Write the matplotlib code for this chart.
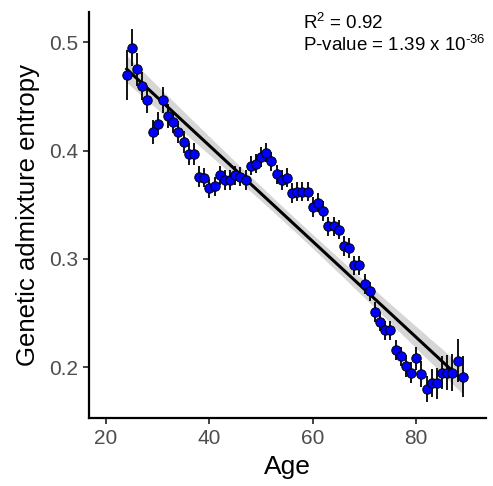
import numpy as np
import matplotlib
matplotlib.use("Agg")
import matplotlib.pyplot as plt

plt.rcParams["font.family"] = ["Liberation Sans", "DejaVu Sans"]
plt.rcParams["mathtext.fontset"] = "custom"
plt.rcParams["mathtext.rm"] = "Liberation Sans"
plt.rcParams["mathtext.it"] = "Liberation Sans:italic"

# mean entropy per age
age = list(range(24, 90))
entropy = [0.470, 0.495, 0.475, 0.460, 0.447, 0.417, 0.425, 0.447, 0.432, 0.426,
           0.417, 0.408, 0.397, 0.397, 0.376, 0.375, 0.365, 0.367, 0.377, 0.373,
           0.373, 0.377, 0.376, 0.373, 0.386, 0.388, 0.394, 0.398, 0.390, 0.378,
           0.373, 0.375, 0.361, 0.362, 0.362, 0.362, 0.348, 0.352, 0.344, 0.330,
           0.330, 0.327, 0.312, 0.310, 0.294, 0.294, 0.277, 0.270, 0.251, 0.242,
           0.234, 0.234, 0.216, 0.210, 0.201, 0.195, 0.208, 0.194, 0.180, 0.185,
           0.185, 0.195, 0.195, 0.195, 0.206, 0.191]
err = [0.023, 0.017, 0.015, 0.013, 0.012, 0.011, 0.011, 0.012, 0.011, 0.010,
       0.010, 0.010, 0.010, 0.010, 0.010, 0.009, 0.009, 0.009, 0.009, 0.009,
       0.009, 0.009, 0.009, 0.009, 0.009, 0.009, 0.009, 0.009, 0.009, 0.009,
       0.009, 0.009, 0.009, 0.009, 0.009, 0.009, 0.009, 0.009, 0.009, 0.009,
       0.009, 0.009, 0.009, 0.009, 0.009, 0.009, 0.009, 0.009, 0.009, 0.009,
       0.009, 0.009, 0.009, 0.009, 0.010, 0.010, 0.011, 0.012, 0.012, 0.013,
       0.014, 0.015, 0.016, 0.017, 0.020, 0.019]
r2_text = r"R$^{2}$ = 0.92"
p_text = r"P-value = 1.39 x 10$^{\text{-36}}$"

x = np.array(age, dtype=float)
y = np.array(entropy)

# linear fit + 95% confidence band (like geom_smooth(method="lm"))
b, a = np.polyfit(x, y, 1)
xs = np.linspace(x.min(), x.max(), 200)
ys = a + b * xs
n = len(x)
resid = y - (a + b * x)
s = np.sqrt(np.sum(resid ** 2) / (n - 2))
sxx = np.sum((x - x.mean()) ** 2)
se = s * np.sqrt(1 / n + (xs - x.mean()) ** 2 / sxx)
band = 1.997 * se

fig = plt.figure(figsize=(4.93, 4.86), dpi=100)
ax = fig.add_axes([0.1805, 0.1399, 0.8053, 0.8354])

ax.fill_between(xs, ys - band, ys + band, color="#999999", alpha=0.4, linewidth=0, zorder=1)
ax.plot(xs, ys, color="black", linewidth=2.2, zorder=2)
ax.errorbar(x, y, yerr=err, fmt="none", ecolor="black", elinewidth=1.3, capsize=0, zorder=3)
ax.plot(x, y, "o", markersize=6.8, markerfacecolor="#0000FF", markeredgecolor="black",
        markeredgewidth=0.7, linestyle="none", zorder=4)

ax.set_xlim(16.7, 93.5)
ax.set_ylim(0.153, 0.528)
ax.set_xticks([20, 40, 60, 80])
ax.set_yticks([0.2, 0.3, 0.4, 0.5])
ax.set_yticklabels(["0.2", "0.3", "0.4", "0.5"])

for side in ["top", "right"]:
    ax.spines[side].set_visible(False)
for side in ["left", "bottom"]:
    ax.spines[side].set_linewidth(1.6)
    ax.spines[side].set_color("black")
ax.tick_params(axis="both", length=4, width=1.3, color="#333333",
               labelsize=15, labelcolor="#4D4D4D", pad=4)

ax.set_xlabel("Age", fontsize=19, labelpad=5)
ax.set_ylabel("Genetic admixture entropy", fontsize=18.5, labelpad=6)

ax.text(0.539, 0.972, r2_text, transform=ax.transAxes, fontsize=13.5,
        ha="left", va="center")
ax.text(0.539, 0.918, p_text, transform=ax.transAxes, fontsize=13.5,
        ha="left", va="center")

fig.savefig("out.png", dpi=100)
